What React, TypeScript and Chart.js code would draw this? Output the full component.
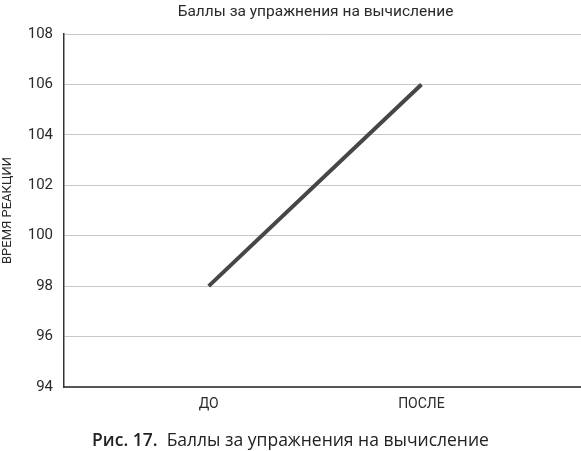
import { useEffect, useRef } from 'react';
import { Chart, registerables } from 'chart.js';

Chart.register(...registerables);

const categories = ['ДО', 'ПОСЛЕ'];
const categoryPositions = [1, 2];
const scores = [98, 106];
const yTicks = [94, 96, 98, 100, 102, 104, 106, 108];

const chartTitle = 'Баллы за упражнения на вычисление';
const yAxisTitle = 'ВРЕМЯ РЕАКЦИИ';
const captionPrefix = 'Рис. 17.';
const captionText = 'Баллы за упражнения на вычисление';

const narrowFont = '"Roboto", "DejaVu Sans", sans-serif';

export default function App() {
  const canvasRef = useRef<HTMLCanvasElement>(null);

  useEffect(() => {
    if (!canvasRef.current) return;

    const chart = new Chart(canvasRef.current, {
      type: 'line',
      data: {
        datasets: [
          {
            label: chartTitle,
            data: categoryPositions.map((x, i) => ({ x, y: scores[i] })),
            borderColor: '#464646',
            borderWidth: 4,
            pointRadius: 0,
            tension: 0,
            borderCapStyle: 'butt',
          },
        ],
      },
      options: {
        responsive: false,
        animation: false,
        layout: { padding: { top: 34, right: 0, bottom: 38, left: 0 } },
        plugins: {
          legend: { display: false },
          tooltip: { enabled: false },
          title: { display: false },
        },
        scales: {
          x: {
            type: 'linear',
            min: 0.32,
            max: 2.75,
            afterBuildTicks: (scale) => {
              scale.ticks = categoryPositions.map((value) => ({ value }));
            },
            afterFit: (scale) => {
              scale.height = 26;
            },
            ticks: {
              color: '#2a2a2a',
              padding: 9,
              font: { family: narrowFont, size: 14 },
              callback: (value) => {
                const i = categoryPositions.indexOf(Number(value));
                return i >= 0 ? categories[i] : '';
              },
            },
            grid: { display: false, drawTicks: false },
            border: { color: '#555', width: 2 },
          },
          y: {
            min: 94,
            max: 108,
            afterBuildTicks: (scale) => {
              scale.ticks = yTicks.map((value) => ({ value }));
            },
            afterFit: (scale) => {
              scale.width = 64;
            },
            ticks: {
              color: '#2a2a2a',
              padding: 11,
              font: { family: narrowFont, size: 15 },
            },
            grid: { color: '#c8c8c8', lineWidth: 1, drawTicks: false },
            border: { color: '#333', width: 1.5 },
            title: {
              display: true,
              text: yAxisTitle,
              color: '#2a2a2a',
              font: { family: narrowFont, size: 13 },
              padding: { top: 0, bottom: 0 },
            },
          },
        },
      },
    });

    return () => {
      chart.destroy();
    };
  }, []);

  return (
    <div style={{ position: 'absolute', left: 0, top: 0, width: 581, height: 451, background: '#fff' }}>
      <canvas ref={canvasRef} width={581} height={451} />
      <div
        style={{
          position: 'absolute',
          left: 64,
          right: 0,
          top: 2,
          textAlign: 'center',
          fontFamily: narrowFont,
          fontSize: 15.5,
          color: '#2a2a2a',
          whiteSpace: 'nowrap',
          paddingRight: 14,
        }}
      >
        {chartTitle}
      </div>
      <div
        style={{
          position: 'absolute',
          left: 0,
          width: 581,
          top: 427,
          textAlign: 'center',
          fontFamily: '"Open Sans", "Noto Sans", sans-serif',
          fontSize: 17.5,
          color: '#222',
          whiteSpace: 'nowrap',
        }}
      >
        <span style={{ fontWeight: 600 }}>{captionPrefix}</span>&nbsp;&nbsp;{captionText}
      </div>
    </div>
  );
}
